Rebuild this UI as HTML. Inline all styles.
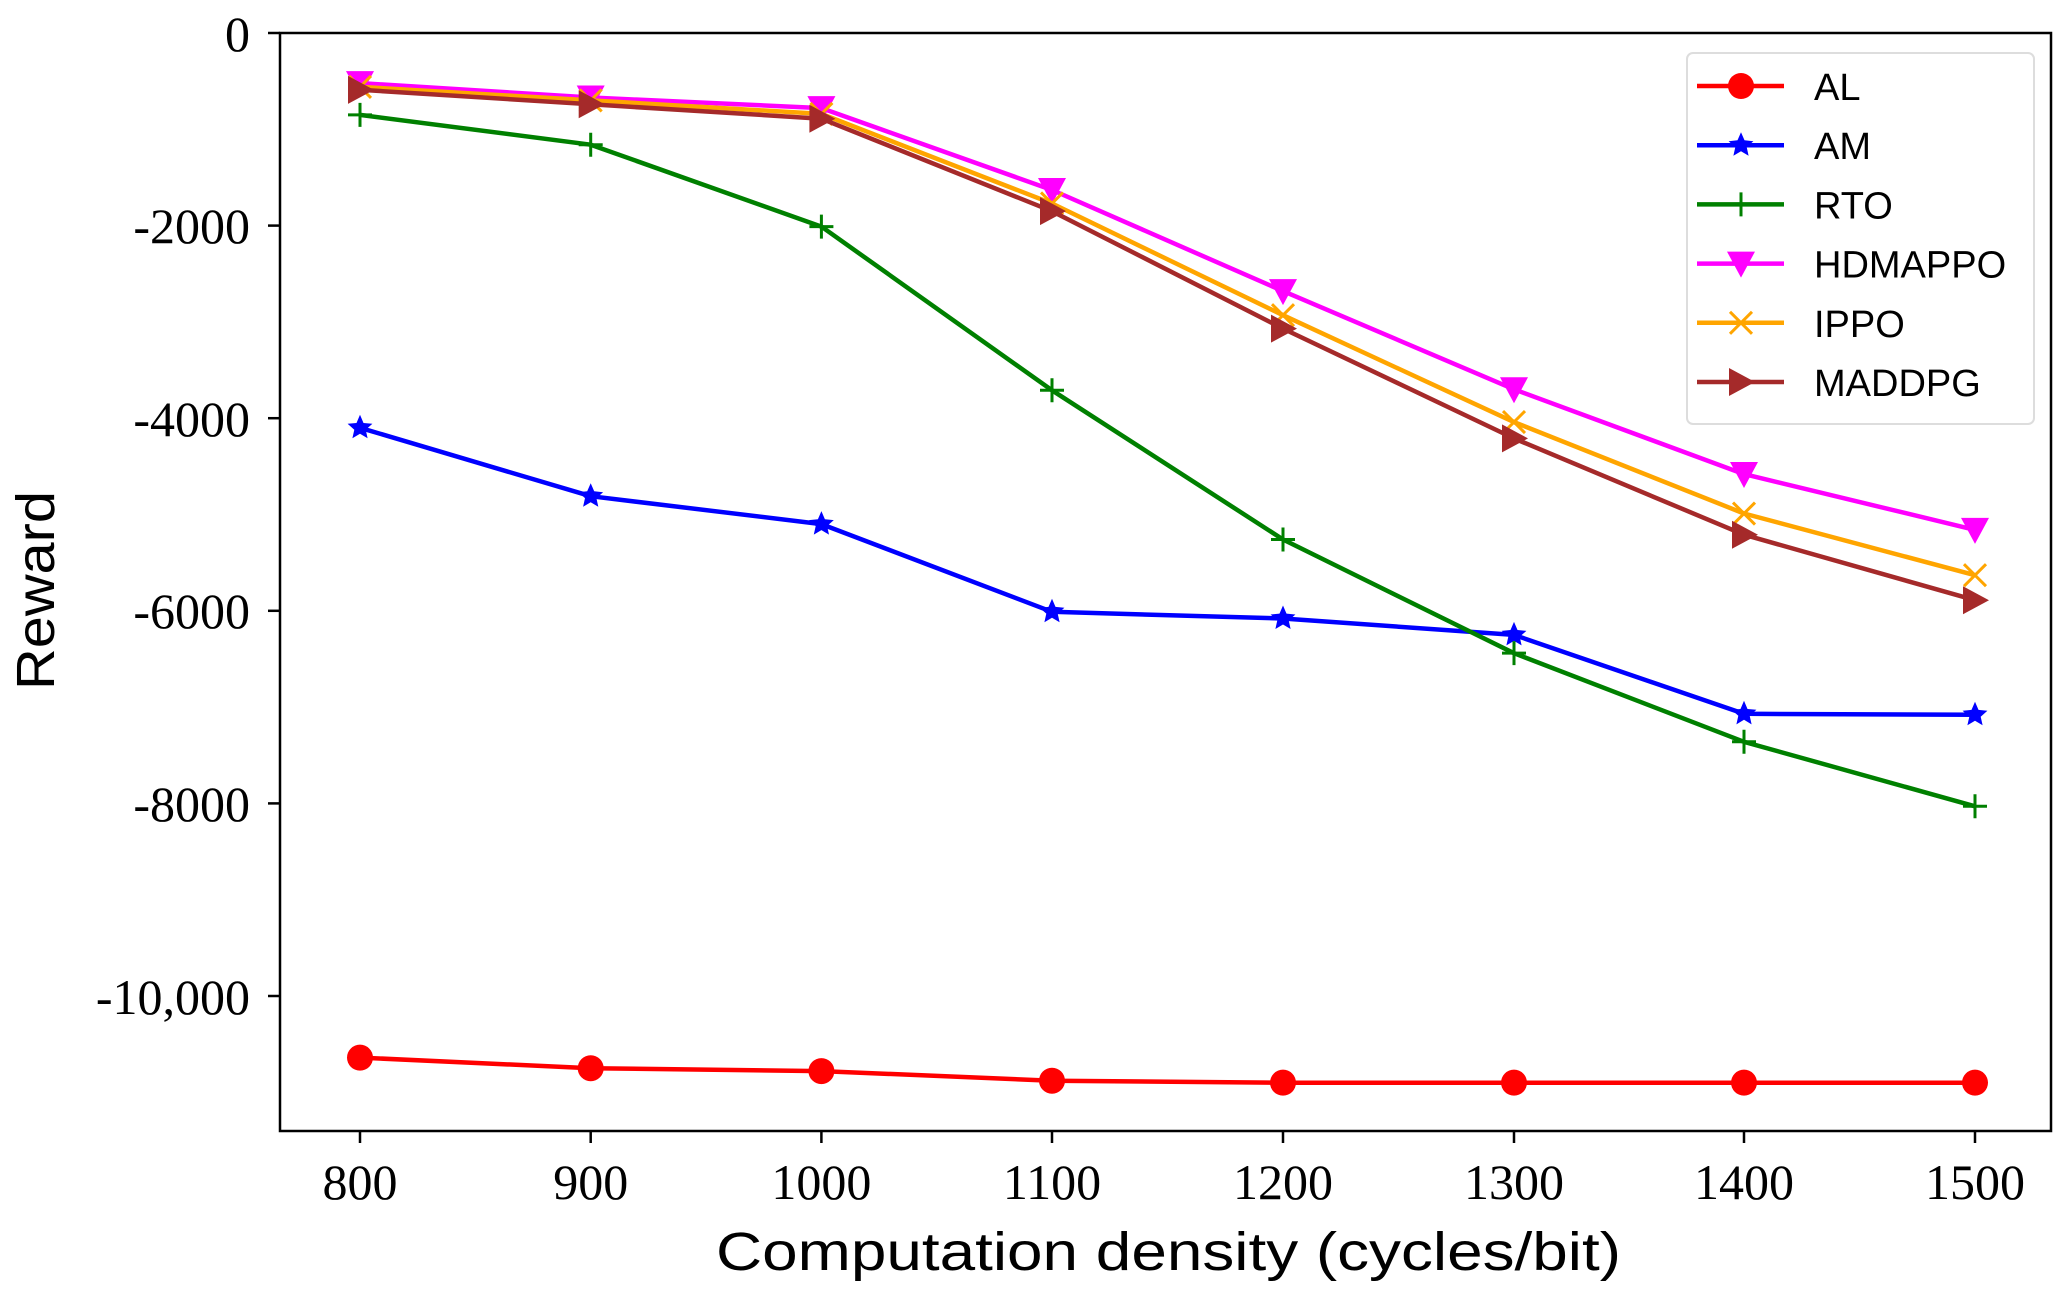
<!DOCTYPE html>
<html><head><meta charset="utf-8"><style>
html,body{margin:0;padding:0;background:#fff;}
svg{display:block;}
</style></head><body>
<svg id="c" width="2069" height="1297" xmlns="http://www.w3.org/2000/svg">
<rect width="2069" height="1297" fill="#fff"/>
<g id="series"></g>
<rect x="280" y="33" width="1771" height="1098" fill="none" stroke="#000" stroke-width="2.5"/>
<g stroke="#000" stroke-width="2.5">
<line x1="268" y1="33" x2="280" y2="33"/><line x1="268" y1="225.6" x2="280" y2="225.6"/>
<line x1="268" y1="418.2" x2="280" y2="418.2"/><line x1="268" y1="610.8" x2="280" y2="610.8"/>
<line x1="268" y1="803.4" x2="280" y2="803.4"/><line x1="268" y1="996" x2="280" y2="996"/>
<line x1="360" y1="1131" x2="360" y2="1143"/><line x1="590.7" y1="1131" x2="590.7" y2="1143"/>
<line x1="821.4" y1="1131" x2="821.4" y2="1143"/><line x1="1052" y1="1131" x2="1052" y2="1143"/>
<line x1="1283" y1="1131" x2="1283" y2="1143"/><line x1="1514" y1="1131" x2="1514" y2="1143"/>
<line x1="1744" y1="1131" x2="1744" y2="1143"/><line x1="1975" y1="1131" x2="1975" y2="1143"/>
</g>
<g font-family="Liberation Serif, serif" font-size="50" fill="#000" text-anchor="end">
<text x="250" y="51">0</text><text x="250" y="243">-2000</text><text x="250" y="436">-4000</text>
<text x="250" y="628">-6000</text><text x="250" y="821">-8000</text><text x="250" y="1014">-10,000</text>
</g>
<g font-family="Liberation Serif, serif" font-size="50" fill="#000" text-anchor="middle">
<text x="360" y="1199">800</text><text x="590.7" y="1199">900</text><text x="821.4" y="1199">1000</text>
<text x="1052" y="1199">1100</text><text x="1283" y="1199">1200</text><text x="1514" y="1199">1300</text>
<text x="1744" y="1199">1400</text><text x="1975" y="1199">1500</text>
</g>
<text x="716" y="1270" font-family="Liberation Sans, sans-serif" font-size="54" textLength="905" lengthAdjust="spacingAndGlyphs">Computation density (cycles/bit)</text>
<text transform="translate(54,690) rotate(-90)" font-family="Liberation Sans, sans-serif" font-size="54" textLength="199" lengthAdjust="spacingAndGlyphs">Reward</text>
<rect x="1687" y="53" width="347" height="371" rx="6" fill="#fff" fill-opacity="0.85" stroke="#ddd" stroke-width="2"/>
<g id="legend"></g>
</svg>
<script>
var X=[360,590.7,821.4,1052,1283,1514,1744,1975];
function Y(v){return 33+v*0.0963;}
var S=[
{n:"AL",c:"#ff0000",m:"o",d:[10640,10750,10780,10880,10900,10900,10900,10900]},
{n:"AM",c:"#0000ff",m:"*",d:[4100,4810,5100,6010,6080,6250,7070,7080]},
{n:"RTO",c:"#008000",m:"+",d:[850,1160,2010,3710,5260,6440,7360,8030]},
{n:"HDMAPPO",c:"#ff00ff",m:"v",d:[520,670,780,1630,2680,3700,4580,5160]},
{n:"IPPO",c:"#ffa500",m:"x",d:[560,700,840,1770,2930,4040,4990,5630]},
{n:"MADDPG",c:"#a52a2a",m:">",d:[590,740,890,1850,3070,4210,5210,5890]}
];
function mk(m,x,y,c){
 if(m=="o")return '<circle cx="'+x+'" cy="'+y+'" r="13" fill="'+c+'"/>';
 if(m=="v")return '<polygon points="'+(x-14)+','+(y-12)+' '+(x+14)+','+(y-12)+' '+x+','+(y+14)+'" fill="'+c+'"/>';
 if(m==">")return '<polygon points="'+(x-12)+','+(y-14)+' '+(x-12)+','+(y+14)+' '+(x+14)+','+y+'" fill="'+c+'"/>';
 if(m=="+")return '<path d="M'+(x-12)+' '+y+'H'+(x+12)+'M'+x+' '+(y-12)+'V'+(y+12)+'" stroke="'+c+'" stroke-width="3"/>';
 if(m=="x")return '<path d="M'+(x-11)+' '+(y-11)+'L'+(x+11)+' '+(y+11)+'M'+(x-11)+' '+(y+11)+'L'+(x+11)+' '+(y-11)+'" stroke="'+c+'" stroke-width="3"/>';
 if(m=="*"){var p=[];for(var i=0;i<10;i++){var a=-Math.PI/2+i*Math.PI/5,rr=i%2?6:13;p.push((x+rr*Math.cos(a)).toFixed(1)+','+(y+rr*Math.sin(a)).toFixed(1));}return '<polygon points="'+p.join(' ')+'" fill="'+c+'"/>';}
}
var h='',lg='';
S.forEach(function(s,k){
 var pts=s.d.map(function(v,i){return X[i]+','+Y(v).toFixed(1);}).join(' ');
 h+='<polyline points="'+pts+'" fill="none" stroke="'+s.c+'" stroke-width="4.5" stroke-linejoin="round"/>';
 s.d.forEach(function(v,i){h+=mk(s.m,X[i],Y(v),s.c);});
 var ly=86+k*59.2;
 lg+='<line x1="1697" y1="'+ly+'" x2="1784" y2="'+ly+'" stroke="'+s.c+'" stroke-width="4.5"/>'+mk(s.m,1741,ly,s.c);
 lg+='<text x="1814" y="'+(ly+14)+'" font-family="Liberation Sans, sans-serif" font-size="38">'+s.n+'</text>';
});
document.getElementById('series').innerHTML=h;
document.getElementById('legend').innerHTML=lg;
</script>
</body></html>
